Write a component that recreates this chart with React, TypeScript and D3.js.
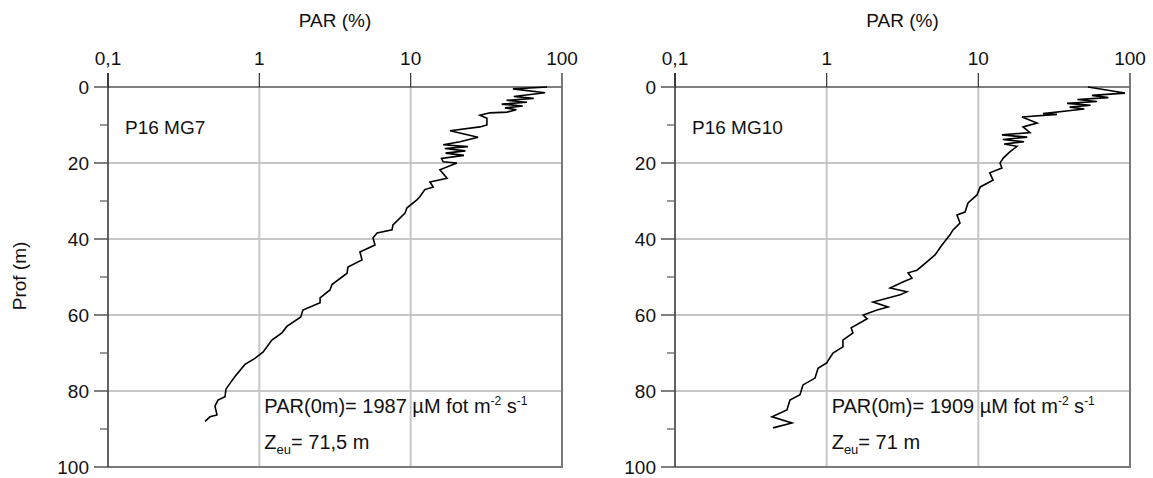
import React, { useEffect } from "react";
import * as d3 from "d3";

const xTickValues = [0.1, 1, 10, 100];
const xTickLabels = ["0,1", "1", "10", "100"];
const yMajorTicks = [0, 20, 40, 60, 80, 100];
const yMinorTicks = [10, 30, 50, 70, 90];

const mg7Depth = [0, 0.5, 1.5, 2.5, 3, 3.5, 4, 4.5, 5, 5.5, 6, 6.6, 6.8, 7.4, 8.2, 10, 10.5, 11.5, 13.2, 14.4, 15.2, 15.7, 16.2, 16.8, 17.4, 18, 18.8, 19.7, 20, 21.8, 24, 25, 26.3, 27, 28.9, 29.7, 31.8, 33.2, 36.3, 37.6, 38.4, 39.7, 41.6, 43.4, 45.5, 47.4, 49, 52, 53.4, 55.5, 56.8, 58.7, 60.5, 63, 64.7, 66.6, 69.7, 71.4, 73, 76.2, 78, 79.5, 81.5, 82.4, 84, 86.3, 86.8, 88];
const mg7Par = [79.6, 47.4, 77.3, 48, 65, 43, 58.7, 40, 55, 42, 50, 43.3, 33.4, 28.7, 31.9, 31.9, 28.7, 18.2, 27.9, 21.2, 16.4, 23.9, 16.8, 23, 17, 22.5, 16, 16.4, 20.2, 15.6, 17.4, 13.4, 14.1, 12.4, 11.5, 11.0, 9.46, 9.18, 7.64, 7.53, 6.0, 5.64, 5.81, 4.62, 4.77, 3.85, 3.8, 3.02, 2.93, 2.52, 2.52, 1.94, 1.88, 1.52, 1.41, 1.21, 1.06, 0.935, 0.804, 0.69, 0.64, 0.602, 0.593, 0.533, 0.509, 0.525, 0.472, 0.438];

const mg10Depth = [0, 1.6, 2.2, 2.8, 3.3, 3.8, 4.3, 4.8, 5.3, 5.8, 6.3, 7, 7.2, 7.9, 9.5, 10.5, 12, 12.6, 13.2, 13.8, 14.4, 15, 15.6, 17, 18.7, 20, 21.3, 22.6, 24.5, 26.3, 28.4, 30.5, 32.9, 33.7, 35.8, 37.6, 38.9, 41.6, 44.2, 46, 48.2, 48.9, 50.3, 51.3, 52.9, 53.9, 54.7, 56.6, 57.9, 58.7, 60, 61, 63.4, 64.7, 66.6, 68.4, 70, 72.6, 74, 76.6, 78.4, 81, 82.4, 85, 86.8, 88.4, 89.7];
const mg10Par = [52.8, 92.7, 56.1, 72, 45, 60.5, 38.4, 55, 40, 50, 38, 26.7, 33, 19.4, 24.4, 19.7, 21.9, 14.3, 21, 14.5, 20, 14.8, 18, 16.2, 14.6, 13.9, 14.3, 11.9, 12.5, 10.3, 9.8, 8.55, 8.17, 7.23, 7.57, 6.81, 6.5, 5.76, 5.18, 4.58, 3.94, 3.44, 3.65, 3.18, 2.62, 3.38, 3.05, 2.02, 2.54, 2.15, 1.74, 1.85, 1.45, 1.49, 1.28, 1.28, 1.1, 1.0, 0.877, 0.838, 0.698, 0.667, 0.573, 0.547, 0.436, 0.59, 0.443];

const panelNames = ["P16 MG7", "P16 MG10"];
const parSurface = ["1987", "1909"];
const zeuValues = ["71,5", "71"];

const FONT = "'Liberation Sans', Arial, sans-serif";

function Panel({ left, right, depth, par, name, par0, zeu }: any) {
  const top = 87;
  const bottom = 467;
  const x = d3.scaleLog().domain([0.1, 100]).range([left, right]);
  const y = d3.scaleLinear().domain([0, 100]).range([top, bottom]);
  const pts: [number, number][] = depth.map((d: number, i: number) => [par[i], d]);
  const line = d3.line<[number, number]>().x((p) => x(p[0])).y((p) => y(p[1]));
  const fs = 19;
  const fa = 20;
  return (
    <g fontFamily={FONT} fill="#111">
      {[1, 10].map((v) => (
        <line key={"gx" + v} x1={x(v)} x2={x(v)} y1={top} y2={bottom} stroke="#c6c6c6" strokeWidth={2} />
      ))}
      {[20, 40, 60, 80].map((v) => (
        <line key={"gy" + v} x1={left} x2={right} y1={y(v)} y2={y(v)} stroke="#c6c6c6" strokeWidth={2} />
      ))}
      <line x1={left} x2={right + 1} y1={bottom} y2={bottom} stroke="#7a7a7a" strokeWidth={2} />
      <line x1={right} x2={right} y1={top - 14} y2={bottom} stroke="#7a7a7a" strokeWidth={2} />
      <line x1={left} x2={right} y1={top} y2={top} stroke="#555" strokeWidth={1.5} />
      {xTickValues.map((v, i) => (
        <g key={"xt" + v}>
          <line x1={x(v)} x2={x(v)} y1={top - 14} y2={top} stroke={i === 3 ? "#7a7a7a" : "#333"} strokeWidth={i === 3 ? 2 : 1.2} />
          <text x={x(v)} y={top - 22} textAnchor="middle" fontSize={fs}>{xTickLabels[i]}</text>
        </g>
      ))}
      <line x1={left} x2={left} y1={top - 14} y2={bottom} stroke="#111" strokeWidth={1.3} />
      {yMajorTicks.map((v) => (
        <g key={"yt" + v}>
          <line x1={left - 14} x2={left} y1={y(v)} y2={y(v)} stroke="#555" strokeWidth={1.5} />
          <text x={left - 19} y={y(v)} dy="0.36em" textAnchor="end" fontSize={fs}>{v}</text>
        </g>
      ))}
      {yMinorTicks.map((v) => (
        <line key={"ym" + v} x1={left - 8} x2={left} y1={y(v)} y2={y(v)} stroke="#555" strokeWidth={1.2} />
      ))}
      <text x={(left + right) / 2} y={27} textAnchor="middle" fontSize={fs}>PAR (%)</text>
      <path d={line(pts) || ""} fill="none" stroke="#000" strokeWidth={1.6} strokeLinejoin="miter" />
      <text x={left + 17} y={y(12.3)} fontSize={19}>{name}</text>
      <text x={x(1) + 5} y={y(85.8)} fontSize={fa}>
        {"PAR(0m)= " + par0 + " µM fot m"}
        <tspan dy={-8} fontSize={12}>-2</tspan>
        <tspan dy={8} fontSize={fa}>{" s"}</tspan>
        <tspan dy={-8} fontSize={12}>-1</tspan>
      </text>
      <text x={x(1) + 5} y={y(95.3)} fontSize={fa}>
        Z<tspan dy={5} fontSize={13}>eu</tspan>
        <tspan dy={-5} fontSize={fa}>{"= " + zeu + " m"}</tspan>
      </text>
    </g>
  );
}

export default function App() {
  useEffect(() => {
    document.body.style.margin = "0";
  }, []);
  return (
    <svg width={1153} height={478} style={{ display: "block", background: "#fff" }}>
      <text x={26} y={276} transform="rotate(-90 26 276)" textAnchor="middle" fontFamily={FONT} fontSize={19} fill="#111">Prof (m)</text>
      <Panel left={108} right={562} depth={mg7Depth} par={mg7Par} name={panelNames[0]} par0={parSurface[0]} zeu={zeuValues[0]} />
      <Panel left={675} right={1130} depth={mg10Depth} par={mg10Par} name={panelNames[1]} par0={parSurface[1]} zeu={zeuValues[1]} />
    </svg>
  );
}
